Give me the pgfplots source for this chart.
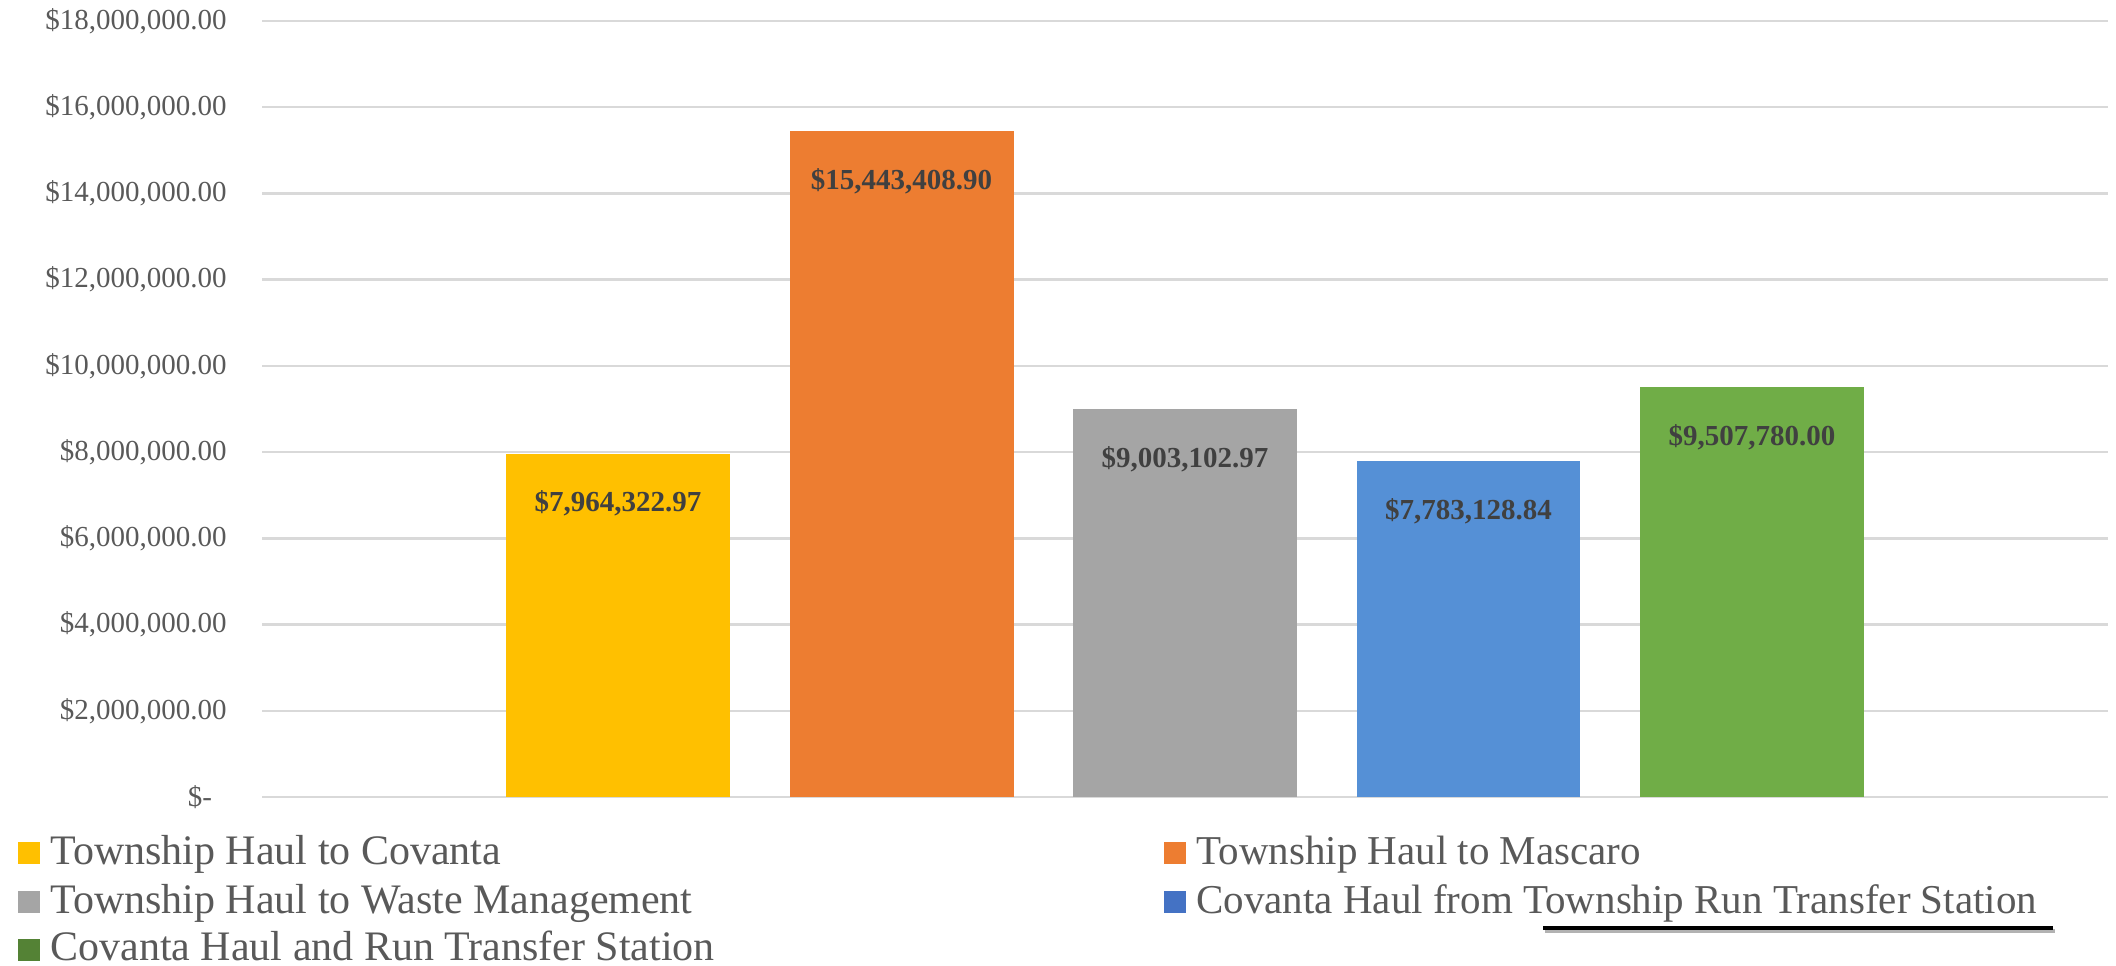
\documentclass[border=0pt]{standalone}
\usepackage{fontspec}
\setmainfont{Liberation Serif}
\usepackage{pgfplots}
\pgfplotsset{compat=1.18}
\definecolor{cYellow}{HTML}{FFC000}
\definecolor{cOrange}{HTML}{ED7D31}
\definecolor{cGray}{HTML}{A5A5A5}
\definecolor{cBlue}{HTML}{5590D6}
\definecolor{cGreen}{HTML}{70AD47}
\definecolor{lBlue}{HTML}{4472C4}
\definecolor{lGreen}{HTML}{548235}
\definecolor{gridc}{HTML}{D9D9D9}
\definecolor{tickc}{HTML}{595959}
\definecolor{labc}{HTML}{404040}
\newcommand{\tickfont}{\fontsize{14.5}{17}\selectfont}
\newcommand{\legfont}{\fontsize{21}{25}\selectfont}
\newcommand{\legfontr}{\fontsize{20.5}{25}\selectfont}
\begin{document}
\begin{tikzpicture}
\useasboundingbox (0,0) rectangle (1058pt,482.5pt);
\begin{axis}[
  at={(131pt,84pt)}, anchor=south west,
  scale only axis, width=923pt, height=388pt,
  xmin=-0.256, xmax=6.256, ymin=0, ymax=18000000,
  clip=false,
  axis line style={draw=none},
  major tick length=0pt,
  xtick=\empty,
  ytick={0,2000000,4000000,6000000,8000000,10000000,12000000,14000000,16000000,18000000},
  yticklabels={{\$-\hphantom{0}},{\$2,000,000.00},{\$4,000,000.00},{\$6,000,000.00},{\$8,000,000.00},{\$10,000,000.00},{\$12,000,000.00},{\$14,000,000.00},{\$16,000,000.00},{\$18,000,000.00}},
  yticklabel style={font=\tickfont, text=tickc, anchor=east, inner sep=0pt, xshift=-17.5pt},
  ymajorgrids,
  major grid style={draw=gridc, line width=1.2pt},
  scaled y ticks=false,
  every axis plot/.append style={ybar, bar width=0.79, bar shift=0pt, draw=none},
  nodes near coords style={font=\tickfont\bfseries, text=labc, anchor=center, yshift=-25pt},
]
\addplot[fill=cYellow, nodes near coords={\$7,964,322.97}] coordinates {(1,7964322.97)};
\addplot[fill=cOrange, nodes near coords={\$15,443,408.90}] coordinates {(2,15443408.90)};
\addplot[fill=cGray, nodes near coords={\$9,003,102.97}] coordinates {(3,9003102.97)};
\addplot[fill=cBlue, nodes near coords={\$7,783,128.84}] coordinates {(4,7783128.84)};
\addplot[fill=cGreen, nodes near coords={\$9,507,780.00}] coordinates {(5,9507780.00)};
\end{axis}
% legend, left column
\fill[cYellow] (9pt,50.5pt) rectangle (20pt,61.5pt);
\node[anchor=base west, inner sep=0pt, text=tickc, font=\legfont] at (25pt,50.5pt) {Township Haul to Covanta};
\fill[cGray] (9pt,26pt) rectangle (20pt,37pt);
\node[anchor=base west, inner sep=0pt, text=tickc, font=\legfont] at (25pt,26pt) {Township Haul to Waste Management};
\fill[lGreen] (9pt,2pt) rectangle (20pt,13pt);
\node[anchor=base west, inner sep=0pt, text=tickc, font=\legfont] at (25pt,2.5pt) {Covanta Haul and Run Transfer Station};
% legend, right column
\fill[cOrange] (582pt,50.5pt) rectangle (593pt,61.5pt);
\node[anchor=base west, inner sep=0pt, text=tickc, font=\legfontr] at (598pt,50.5pt) {Township Haul to Mascaro};
\fill[lBlue] (582pt,26pt) rectangle (593pt,37pt);
\node[anchor=base west, inner sep=0pt, text=tickc, font=\legfontr] at (598pt,26pt) {Covanta Haul from Township Run Transfer Station};
% underline
\draw[black!30, line width=1.6pt] (772.5pt,17pt) -- (1027.5pt,17pt);
\draw[black, line width=2pt] (771.5pt,18.5pt) -- (1026.5pt,18.5pt);
\end{tikzpicture}
\end{document}
